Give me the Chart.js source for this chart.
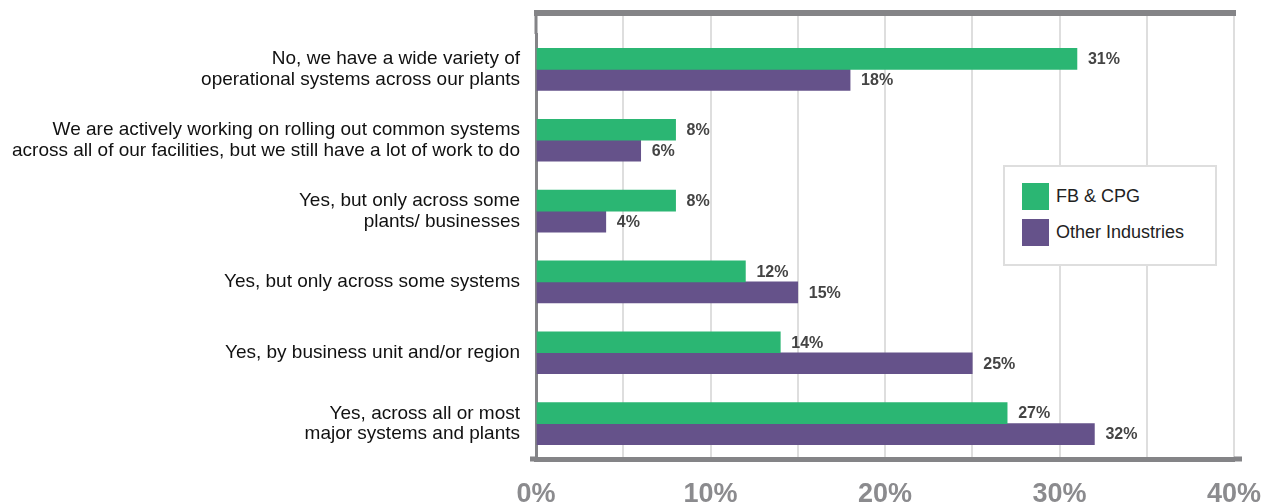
<!DOCTYPE html>
<html>
<head>
<meta charset="utf-8">
<script src="https://cdn.jsdelivr.net/npm/chart.js@4"></script>
<style>
  html, body { margin: 0; padding: 0; background: #fff; }
  #wrap { position: relative; width: 1263px; height: 504px; }
  #legend {
    position: absolute; left: 1003px; top: 165px; width: 210px; height: 97px;
    border: 2px solid #dedede; background: #fff;
    font-family: "Liberation Sans", Arial, sans-serif;
    font-size: 18px; color: #222;
  }
  #legend div { position: absolute; left: 17px; height: 27px; line-height: 27px; }
  #legend span { display: inline-block; width: 27px; height: 27px; vertical-align: top; margin-right: 7px; }
</style>
</head>
<body>
<div id="wrap">
  <canvas id="myChart" width="1263" height="504"></canvas>
  <div id="legend"></div>
</div>
<script>
// Chart data

const categories = [
  ["No, we have a wide variety of", "operational systems across our plants"],
  ["We are actively working on rolling out common systems", "across all of our facilities, but we still have a lot of work to do"],
  ["Yes, but only across some", "plants/ businesses"],
  "Yes, but only across some systems",
  "Yes, by business unit and/or region",
  ["Yes, across all or most", "major systems and plants"],
];
const fbCpg = [31, 8, 8, 12, 14, 27];
const otherIndustries = [18, 6, 4, 15, 25, 32];
const seriesNames = ["FB & CPG", "Other Industries"];

const green = "#2bb673";
const purple = "#65528a";
const axisGrey = "#848487";
const sans = '"Liberation Sans", Arial, sans-serif';

// value labels at the end of each bar
const valueLabels = {
  id: "valueLabels",
  afterDatasetsDraw(chart) {
    const ctx = chart.ctx;
    ctx.save();
    ctx.font = "bold 16px " + sans;
    ctx.fillStyle = "#444";
    ctx.textBaseline = "middle";
    chart.data.datasets.forEach(function (ds, i) {
      chart.getDatasetMeta(i).data.forEach(function (bar, j) {
        ctx.fillText(ds.data[j] + "%", bar.x + 11, bar.y + 1);
      });
    });
    ctx.restore();
  },
};

// top edge of the frame, left axis above the plot, bottom axis overhang
const frame = {
  id: "frame",
  afterDraw(chart) {
    const a = chart.chartArea;
    const ctx = chart.ctx;
    ctx.save();
    ctx.fillStyle = axisGrey;
    ctx.fillRect(a.left - 2, 10, a.right - a.left + 4, 6);
    ctx.fillRect(a.left - 1.5, 10, 3, a.top - 10);
    ctx.fillRect(a.left - 6, a.bottom - 2.5, 6, 5);
    ctx.fillRect(a.right, a.bottom - 2.5, 8, 5);
    ctx.restore();
  },
};

const chart = new Chart(document.getElementById("myChart"), {
  type: "bar",
  data: {
    labels: categories,
    datasets: [
      {
        label: seriesNames[0],
        data: fbCpg,
        backgroundColor: green,
        barThickness: 21,
      },
      {
        label: seriesNames[1],
        data: otherIndustries,
        backgroundColor: purple,
        barThickness: 21,
      },
    ],
  },
  plugins: [valueLabels, frame],
  options: {
    indexAxis: "y",
    responsive: false,
    animation: false,
    layout: { padding: { top: 16, right: 29, left: 0, bottom: 0 } },
    plugins: {
      legend: { display: false },
      tooltip: { enabled: false },
    },
    scales: {
      x: {
        min: 0,
        max: 40,
        ticks: {
          stepSize: 5,
          padding: 19,
          color: "#8b8b8e",
          font: { family: sans, size: 27, weight: "bold" },
          callback: function (v) {
            return v % 10 === 0 ? v + "%" : "";
          },
          maxRotation: 0,
          autoSkip: false,
        },
        grid: { color: "#dedede", lineWidth: 2, drawTicks: false },
        border: { color: axisGrey, width: 5 },
        afterFit: function (s) {
          s.height = 45;
          s.paddingLeft = 0;
          s.paddingRight = 0;
        },
      },
      x2: {
        position: "top",
        min: 0,
        max: 40,
        ticks: { display: false, stepSize: 5 },
        grid: { color: "#dedede", lineWidth: 2, drawOnChartArea: false, tickLength: 18 },
        border: { display: false },
      },
      y: {
        ticks: {
          color: "#111",
          padding: 8,
          font: { family: sans, size: 19, lineHeight: 1.08 },
        },
        grid: { display: false },
        border: { color: axisGrey, width: 3 },
        afterFit: function (s) {
          s.width = 536;
        },
      },
    },
  },
});

// legend box
const legend = document.getElementById("legend");
chart.data.datasets.forEach(function (ds, i) {
  const item = document.createElement("div");
  item.style.top = 16 + i * 36 + "px";
  item.innerHTML = '<span style="background:' + ds.backgroundColor + '"></span>' + ds.label;
  legend.appendChild(item);
});
</script>
</body>
</html>
